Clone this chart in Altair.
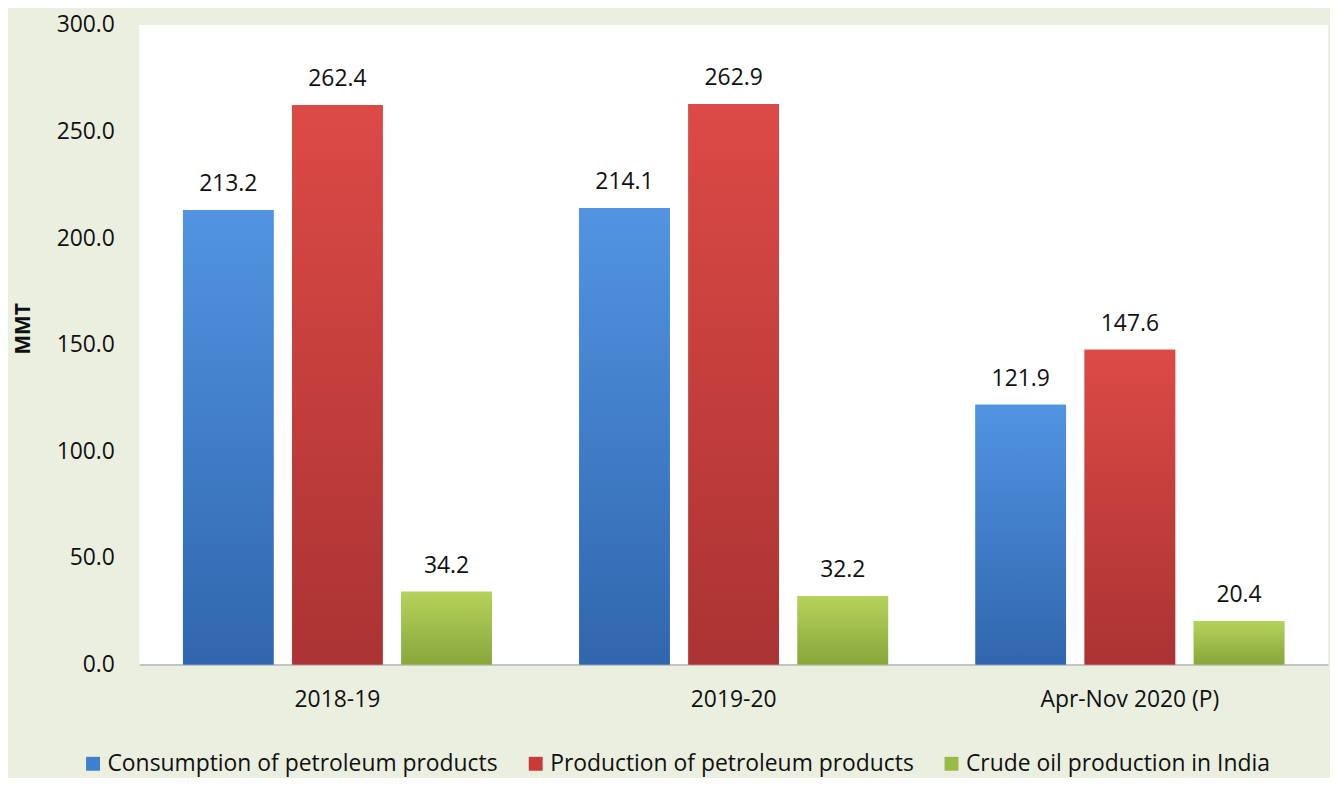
import altair as alt
import pandas as pd

periods = ["2018-19", "2019-20", "Apr-Nov 2020 (P)"]
series = [
    "Consumption of petroleum products",
    "Production of petroleum products",
    "Crude oil production in India",
]
consumption = [213.2, 214.1, 121.9]
production = [262.4, 262.9, 147.6]
crude = [34.2, 32.2, 20.4]
y_ticks = [0, 50, 100, 150, 200, 250, 300]

colors = ["#3f7fcf", "#c83b3b", "#9bbb48"]
grad_top = ["#5294e2", "#dc4a46", "#b5d35a"]
grad_bottom = ["#3066ad", "#ab3333", "#88a63b"]

rows = []
for vals, s in zip([consumption, production, crude], series):
    for p, v in zip(periods, vals):
        rows.append({"period": p, "series": s, "value": v})
df = pd.DataFrame(rows)

FONT = "Open Sans"

x_enc = alt.X(
    "period:N",
    sort=periods,
    scale=alt.Scale(paddingInner=0, paddingOuter=0),
    axis=alt.Axis(
        title=None,
        labelAngle=0,
        labelFontSize=23,
        labelFont=FONT,
        labelColor="#111111",
        labelPadding=24,
        labelLimit=500,
        ticks=False,
        domainColor="#c4c4c4",
        domainWidth=2,
    ),
)
xoff_enc = alt.XOffset(
    "series:N",
    sort=series,
    scale=alt.Scale(domain=series, paddingInner=0.17, paddingOuter=0.4),
)
y_enc = alt.Y(
    "value:Q",
    scale=alt.Scale(domain=[0, 300], nice=False),
    axis=alt.Axis(
        values=y_ticks,
        format=".1f",
        grid=False,
        domain=False,
        ticks=False,
        tickSize=0,
        labelPadding=25,
        labelFontSize=23,
        labelFont=FONT,
        labelColor="#111111",
        title="MMT",
        titleFont=FONT,
        titleFontSize=21,
        titleFontWeight="bold",
        titleColor="#111111",
        titleX=-116,
        titleY=305,
        titleAngle=270,
        titleAlign="center",
        titleBaseline="middle",
    ),
)

base = alt.Chart(df)

legend_bars = base.mark_bar().encode(
    x=x_enc,
    xOffset=xoff_enc,
    y=y_enc,
    color=alt.Color(
        "series:N",
        scale=alt.Scale(domain=series, range=colors),
        legend=alt.Legend(
            title=None,
            orient="none",
            direction="horizontal",
            legendX=-58,
            legendY=731,
            symbolType="square",
            symbolSize=196,
            symbolStrokeWidth=0,
            labelFontSize=23,
            labelFont=FONT,
            labelColor="#111111",
            labelOffset=3,
            columnPadding=26,
            padding=0,
            labelLimit=600,
        ),
    ),
)

grad_layers = []
for s, t, b in zip(series, grad_top, grad_bottom):
    grad_layers.append(
        base.transform_filter(alt.datum.series == s)
        .mark_bar(
            color=alt.Gradient(
                gradient="linear",
                stops=[
                    alt.GradientStop(color=t, offset=0),
                    alt.GradientStop(color=b, offset=1),
                ],
                x1=0, x2=0, y1=0, y2=1,
            )
        )
        .encode(x=x_enc, xOffset=xoff_enc, y=y_enc)
    )

labels = base.mark_text(
    baseline="alphabetic", dy=-19, fontSize=23, font=FONT, color="#111111"
).encode(
    x=x_enc,
    xOffset=xoff_enc,
    y=y_enc,
    text=alt.Text("value:Q", format=".1f"),
)

chart = (
    alt.layer(legend_bars, *grad_layers, labels)
    .properties(
        width=1195,
        height=643,
        background="#ebefe0",
        autosize=alt.AutoSizeParams(type="none"),
        padding={"left": 132, "top": 15, "right": 2, "bottom": 112},
    )
    .configure_view(fill="white", strokeWidth=0)
)

chart.save("out.html", embed_options={"renderer": "svg", "actions": False})
